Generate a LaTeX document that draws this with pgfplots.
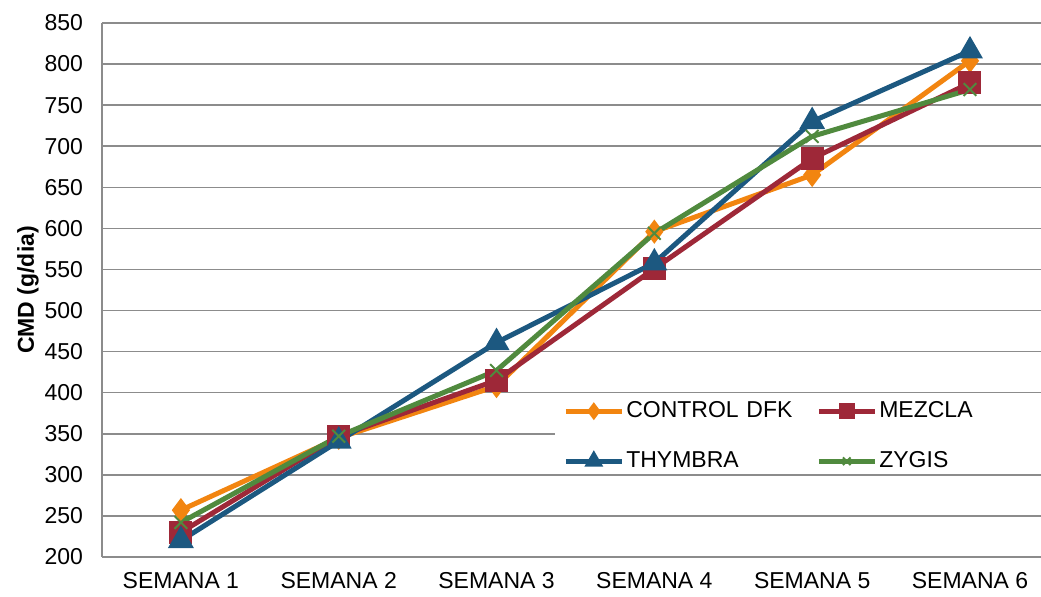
\documentclass[border=0pt]{standalone}
\usepackage{pgfplots}
\pgfplotsset{compat=1.18}
\usepackage{fontspec}
\setmainfont{Liberation Sans}
\definecolor{cctrl}{RGB}{242,133,16}
\definecolor{cmez}{RGB}{158,40,56}
\definecolor{cthy}{RGB}{28,88,128}
\definecolor{czyg}{RGB}{80,138,62}
\definecolor{cgrid}{RGB}{140,140,140}
\begin{document}
\begin{tikzpicture}
\clip (-51pt,-20pt) rectangle (469.5pt,278.5pt);
\useasboundingbox (-51pt,-20pt) rectangle (469.5pt,278.5pt);
\begin{axis}[
  at={(0,0)}, anchor=south west,
  scale only axis, width=469.5pt, height=267pt,
  xmin=-0.5, xmax=5.45, ymin=200, ymax=850,
  ytick={200,250,...,850},
  xtick={0,...,5},
  xticklabels={SEMANA 1,SEMANA 2,SEMANA 3,SEMANA 4,SEMANA 5,SEMANA 6},
  axis x line*=bottom, axis y line*=left,
  axis line style={cgrid, line width=0.8pt, -},
  major tick length=0pt,
  ymajorgrids, grid style={cgrid, line width=0.75pt},
  font=\fontsize{11.5}{13}\selectfont,
  /pgf/number format/assume math mode=true,
  yticklabel style={xshift=-6pt},
  xticklabel style={yshift=-4pt},
  ylabel={\bfseries CMD (g/dia)},
  ylabel style={at={(axis description cs:0,0.5)}, yshift=37pt, anchor=center},
  clip=false,
  legend columns=2,
  legend style={at={(axis cs:2.37,392)}, anchor=north west, draw=none, fill=white,
    inner xsep=4pt, inner ysep=0pt,
    nodes={text width=94pt, align=left, inner sep=1pt},
    row sep=13.5pt, font=\fontsize{11.5}{13}\selectfont},
  legend image code/.code={\draw[mark repeat=2,mark phase=2] plot coordinates {(0pt,0pt) (14pt,0pt) (28pt,0pt)};},
  legend image post style={every mark/.append style={scale=0.6}},
  every axis plot/.append style={line width=2.5pt},
]
\addplot[color=cctrl, mark=diamond*, mark size=4pt, mark options={solid}] coordinates {(0,257) (1,345) (2,408) (3,596) (4,665) (5,804)};
\addlegendentry{CONTROL DFK}
\addplot[color=cmez, mark=square*, mark size=4.5pt] coordinates {(0,230) (1,347) (2,415) (3,551) (4,685) (5,777)};
\addlegendentry{MEZCLA}
\addplot[color=cthy, mark=triangle*, mark size=5pt] coordinates {(0,220) (1,341) (2,461) (3,558) (4,730) (5,816)};
\addlegendentry{THYMBRA}
\addplot[color=czyg, mark=x, mark size=4.5pt, mark options={line width=1pt}] coordinates {(0,242) (1,347) (2,427) (3,594) (4,712) (5,769)};
\addlegendentry{ZYGIS}
\end{axis}
\end{tikzpicture}
\end{document}
